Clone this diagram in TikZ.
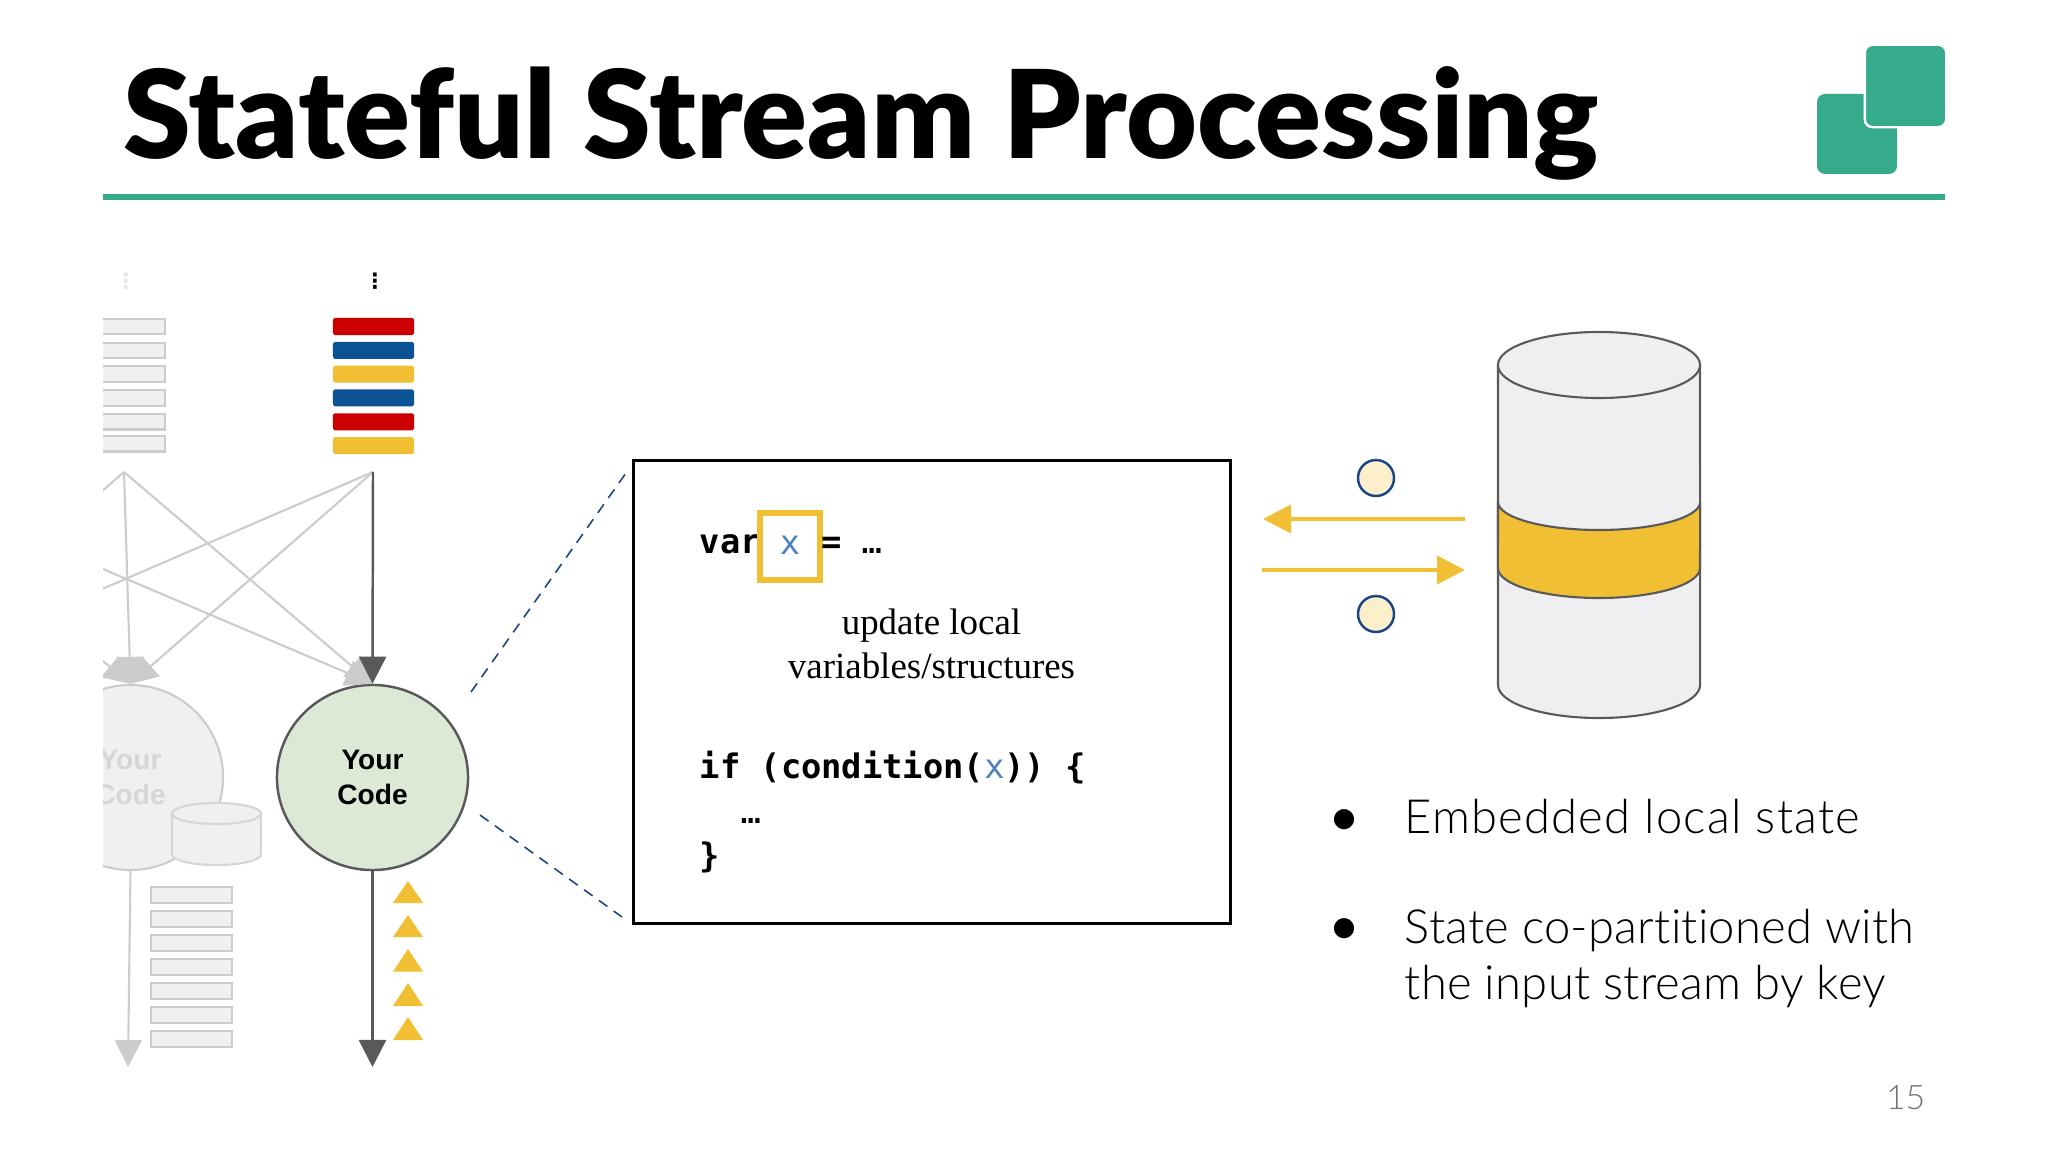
\documentclass[tikz,border=0pt]{standalone}
\usepackage{fontspec}
\setmainfont{Liberation Sans}
\newfontfamily\titlefont{Lato Black}
\newfontfamily\bulletfont[Ligatures=NoCommon,LetterSpace=.5]{Lato Light}
\newfontfamily\bulletwidefont[Ligatures=NoCommon,LetterSpace=2.6]{Lato Light}
\newfontfamily\pagefont{Lato Light}
\newfontfamily\codefont{DejaVu Sans Mono}
\newfontfamily\notefont{Liberation Serif}
\newfontfamily\symbolfont{DejaVu Sans}
\usetikzlibrary{arrows.meta,shapes.geometric}

\definecolor{brandgreen}{HTML}{36AB8C}
\definecolor{statecolor}{HTML}{F1BF34}
\definecolor{barred}{HTML}{CC0000}
\definecolor{barblue}{HTML}{0B5394}
\definecolor{linkblue}{HTML}{1C4587}
\definecolor{codegreen}{HTML}{DCE9D6}
\definecolor{fadedfill}{HTML}{F0F0F0}
\definecolor{fadedline}{HTML}{CCCCCC}
\definecolor{darkline}{HTML}{595959}
\definecolor{cylfill}{HTML}{EFEFF1}
\definecolor{varblue}{HTML}{4F81BD}

\tikzstyle{bar} = [rectangle, minimum width=.81cm, minimum height=.17cm, inner sep=0pt, outer sep=0pt, node distance=.238cm]
\tikzstyle{red bar} = [bar, rounded corners=.5pt, fill=barred]
\tikzstyle{blue bar} = [bar, rounded corners=.5pt, fill=barblue]
\tikzstyle{yellow bar} = [bar, rounded corners=.5pt, fill=statecolor]
\tikzstyle{faded bar} = [bar, draw=fadedline, line width=.6pt, fill=fadedfill, minimum height=.155cm]
\tikzstyle{operator} = [ellipse, inner sep=0pt, minimum width=1.91cm, minimum height=1.85cm, align=center,
    font=\fontsize{8}{9.7}\selectfont\bfseries]
\tikzstyle{code} = [operator, draw=darkline, line width=.7pt, fill=codegreen]
\tikzstyle{faded code} = [operator, minimum width=1.85cm, draw=fadedline, line width=.6pt, fill=fadedfill, text=fadedline!80]
\tikzstyle{line} = [draw=darkline, line width=.7pt, -{Triangle[length=.27cm,width=.27cm]}]
\tikzstyle{faded line} = [draw=fadedline, line width=.6pt, -{Triangle[length=.27cm,width=.27cm]}]
\tikzstyle{zoom line} = [draw=linkblue, line width=.45pt, dash pattern=on 3pt off 2.2pt]
\tikzstyle{access} = [draw=statecolor, line width=1.1pt, -{Triangle[length=.28cm,width=.28cm]}]
\tikzstyle{record} = [circle, draw=linkblue, line width=.7pt, fill=statecolor!25, minimum size=.36cm, inner sep=0pt]
\tikzstyle{src} = [anchor=base west, inner sep=0pt, font=\codefont\fontsize{9.6}{11}\selectfont\bfseries]
\tikzstyle{bullet} = [anchor=base west, inner sep=0pt, align=left, font=\bulletfont\fontsize{13.4}{15.9}\selectfont]
\tikzstyle{bullet mark} = [anchor=base west, inner sep=0pt, font=\symbolfont\fontsize{7.5}{9}\selectfont]
\tikzstyle{dot} = [inner sep=0pt, font=\symbolfont\fontsize{6}{7}\selectfont\bfseries]

\begin{document}
\begin{tikzpicture}[x=.01cm, y=-.01cm]
\useasboundingbox (0,0) rectangle (2048,1152);

% Header
\node [anchor=base west, inner sep=0pt, font=\titlefont\fontsize{34.8}{40}\selectfont] (title) at (123,159) {Stateful Stream Processing};
\draw [brandgreen, line width=1.7pt] (103,197) -- (1945,197);
\fill [brandgreen, rounded corners=.08cm] (1817,94) rectangle (1897,174);
\filldraw [brandgreen, draw=white, line width=.7pt, rounded corners=.08cm] (1864.75,44.75) rectangle (1946.25,127.25);

% Faded operator, cut off at the margin
\begin{scope}
\clip (103,260) rectangle (300,1090);
\node [dot, text=fadedline!50] (fadedDots) at (126,281) {⋮};
\node [faded bar] (fadedA) at (124.5,326.5) {};
\node [faded bar, below of=fadedA] (fadedB) {};
\node [faded bar, below of=fadedB] (fadedC) {};
\node [faded bar, below of=fadedC] (fadedD) {};
\node [faded bar, below of=fadedD] (fadedE) {};
\node [faded bar, below of=fadedE, node distance=.22cm] (fadedF) {};
\node [faded code] (fadedCode) at (130.5,777.5) {Your\\Code};
\coordinate (apexOut) at (-125,472);
\coordinate (apexLeft) at (124,472);
\coordinate (apexRight) at (373,472);
\coordinate (fadedEnd) at (128,1067);
\coordinate (outCode) at (-120,685);
\end{scope}

% Operator in focus
\node [dot] (dots) at (375,281) {⋮};
\node [red bar] (barA) at (373.5,326.5) {};
\node [blue bar, below of=barA] (barB) {};
\node [yellow bar, below of=barB] (barC) {};
\node [blue bar, below of=barC] (barD) {};
\node [red bar, below of=barD] (barE) {};
\node [yellow bar, below of=barE] (barF) {};
\node [code] (yourCode) at (372.5,777.5) {Your\\Code};
\coordinate (codeEnd) at (372.5,1067);

% Draw edges
\begin{scope}
\clip (103,460) rectangle (450,1090);
\path [faded line] (apexOut) -- (fadedCode.north);
\path [faded line] (apexLeft) -- (fadedCode.north);
\path [faded line] (apexRight) -- (fadedCode.north);
\path [faded line] (apexLeft) -- (outCode);
\path [faded line] (apexRight) -- (outCode);
\path [faded line] (apexOut) -- (yourCode.north);
\path [faded line] (apexLeft) -- (yourCode.north);
\path [faded line] (fadedCode.south) -- (fadedEnd);
\end{scope}
\path [line] (apexRight) -- (yourCode.north);
\path [line] (yourCode.south) -- (codeEnd);

% Faded local state and output
\filldraw [fill=fadedfill, draw=fadedline!80, line width=.6pt] (172,813.5) -- (172,854.5) arc [start angle=180, end angle=360, x radius=.445cm, y radius=.105cm] -- (261,813.5) -- cycle;
\filldraw [fill=fadedfill, draw=fadedline!80, line width=.6pt] (216.5,813.5) ellipse [x radius=.445cm, y radius=.105cm];
\node [faded bar] (outA) at (191.5,895) {};
\node [faded bar, below of=outA, node distance=.24cm] (outB) {};
\node [faded bar, below of=outB, node distance=.24cm] (outC) {};
\node [faded bar, below of=outC, node distance=.24cm] (outD) {};
\node [faded bar, below of=outD, node distance=.24cm] (outE) {};
\node [faded bar, below of=outE, node distance=.24cm] (outF) {};
\node [faded bar, below of=outF, node distance=.24cm] (outG) {};

% Output records
\fill [statecolor] (393,903) -- (408,881) -- (423,903) -- cycle;
\fill [statecolor] (393,937) -- (408,915) -- (423,937) -- cycle;
\fill [statecolor] (393,971.5) -- (408,949) -- (423,971.5) -- cycle;
\fill [statecolor] (393,1006) -- (408,983) -- (423,1006) -- cycle;
\fill [statecolor] (393,1040) -- (408,1017) -- (423,1040) -- cycle;

% Zoom into the code
\node [rectangle, draw=black, line width=.7pt, minimum width=5.965cm, minimum height=4.63cm, inner sep=0pt] (codeBox) at (932,692) {};
\coordinate (zoomTopA) at (471,692);
\coordinate (zoomTopB) at (626,473);
\coordinate (zoomLowA) at (480,815);
\coordinate (zoomLowB) at (622,917);
\path [zoom line] (zoomTopA) -- (zoomTopB);
\path [zoom line] (zoomLowA) -- (zoomLowB);

\node [src] (varWord) at (699,554) {var};
\node [rectangle, draw=statecolor, line width=1.7pt, minimum width=.6cm, minimum height=.66cm, inner sep=0pt, text=varblue, font=\codefont\fontsize{9.6}{11}\selectfont] (xBox) at (790,546.5) {\raisebox{.6pt}{x}};
\node [src] (assign) at (821,554) {= };
\node [src, font=\codefont\fontsize{9.6}{11}\selectfont] (dotsA) at (861,554) {…};
\node [inner sep=0pt, align=center, font=\notefont\fontsize{10.5}{12.5}\selectfont] (note) at (931.5,644) {update local\\variables/structures};
\node [src] (ifLine) at (699,778) {if (condition(\textcolor{varblue}{\mdseries x})) \{};
\node [src, font=\codefont\fontsize{9.6}{11}\selectfont] (dotsB) at (740,823) {…};
\node [src] (closing) at (699,867) {\}};

% State store
\filldraw [fill=cylfill, draw=darkline, line width=.6pt] (1498,365) -- (1498,685) arc [start angle=180, end angle=360, x radius=1.01cm, y radius=.33cm] -- (1700,365) -- cycle;
\filldraw [fill=statecolor, draw=darkline, line width=.6pt] (1498,502) arc [start angle=180, end angle=360, x radius=1.01cm, y radius=.28cm] -- (1700,568) arc [start angle=0, end angle=-180, x radius=1.01cm, y radius=.30cm] -- cycle;
\filldraw [fill=cylfill, draw=darkline, line width=.6pt] (1599,365) ellipse [x radius=1.01cm, y radius=.33cm];

\coordinate (storeOut) at (1465,519);
\coordinate (readEnd) at (1263,519);
\coordinate (writeStart) at (1262,570);
\coordinate (storeIn) at (1465,570);
\path [access] (storeOut) -- (readEnd);
\path [access] (writeStart) -- (storeIn);
\node [record] (readRecord) at (1376,478) {};
\node [record] (writeRecord) at (1376,614) {};

% Bullets
\node [bullet mark] (bulletA) at (1332,826) {●};
\node [bullet, font=\bulletwidefont\fontsize{13.4}{15.9}\selectfont] (textA) at (1404,833) {Embedded local state};
\node [bullet mark] (bulletB) at (1332,935) {●};
\node [bullet] (textB) at (1404,999) {State co-partitioned with\\the input stream by key};
\node [anchor=base east, inner sep=0pt, text=gray!90!black, font=\pagefont\fontsize{9.6}{12}\selectfont] (pageNo) at (1926,1109) {15};
\end{tikzpicture}
\end{document}
